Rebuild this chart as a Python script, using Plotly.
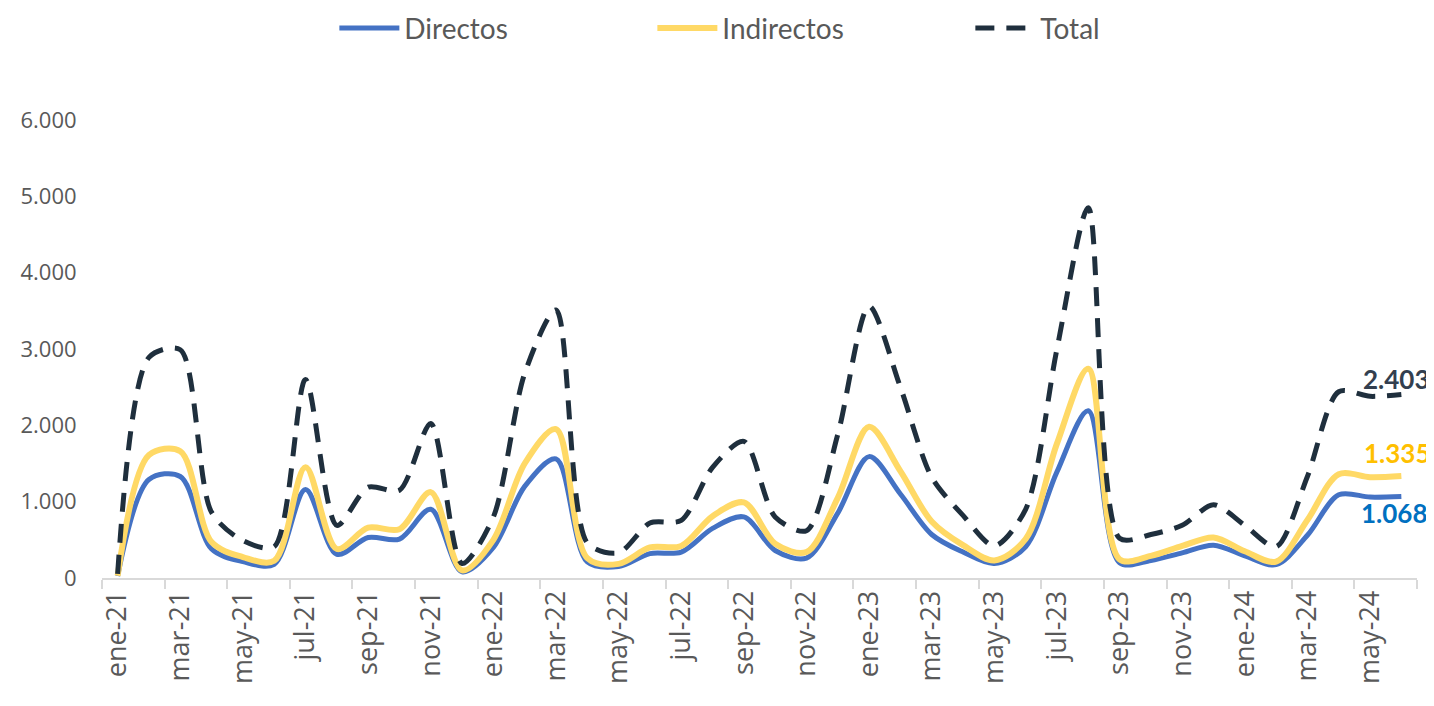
import plotly.graph_objects as go

months = ["ene", "feb", "mar", "abr", "may", "jun", "jul", "ago", "sep", "oct", "nov", "dic"]
categories = [f"{m}-{y}" for y in ("21", "22", "23", "24") for m in months][:42]

directos = [25, 1290, 1330, 380, 215, 180, 1160, 310, 530, 510, 900, 80,
            400, 1200, 1560, 210, 150, 320, 340, 650, 800, 360, 260, 850,
            1590, 1100, 570, 340, 190, 410, 1390, 2190, 200, 230, 330, 430,
            290, 175, 560, 1090, 1060, 1068]
indirectos = [30, 1610, 1660, 470, 275, 225, 1450, 380, 660, 640, 1125, 100,
              500, 1500, 1950, 260, 185, 400, 420, 810, 990, 450, 340, 1050,
              1980, 1400, 740, 430, 230, 510, 1760, 2740, 245, 290, 420, 530,
              350, 215, 760, 1360, 1320, 1335]
total = [55, 2890, 2990, 860, 490, 410, 2600, 690, 1190, 1150, 2025, 190,
         800, 2680, 3510, 460, 330, 720, 755, 1450, 1790, 800, 620, 1880,
         3560, 2500, 1320, 820, 420, 900, 3000, 4850, 520, 570, 690, 960,
         690, 410, 1330, 2440, 2380, 2403]

series_names = ["Directos", "Indirectos", "Total"]
y_ticks = [0, 1000, 2000, 3000, 4000, 5000, 6000]


def fmt(v):
    return f"{v:,}".replace(",", ".")


fig = go.Figure()
fig.add_trace(go.Scatter(x=categories, y=directos, name=series_names[0], mode="lines",
                         line=dict(color="#4472C4", width=5, shape="spline", smoothing=0.9)))
fig.add_trace(go.Scatter(x=categories, y=indirectos, name=series_names[1], mode="lines",
                         line=dict(color="#FFD966", width=6, shape="spline", smoothing=0.9)))
fig.add_trace(go.Scatter(x=categories, y=total, name=series_names[2], mode="lines",
                         line=dict(color="#1F2F3D", width=5, dash="19px,12px", shape="spline", smoothing=0.8)))

label_font = dict(family="Lato, Liberation Sans, sans-serif", size=26)
fig.add_annotation(x=categories[-1], y=total[-1], text=f"<b>{fmt(total[-1])}</b>", showarrow=False,
                   xanchor="left", yanchor="middle", xshift=-40, yshift=16,
                   font=dict(color="#333F4F", **label_font))
fig.add_annotation(x=categories[-1], y=indirectos[-1], text=f"<b>{fmt(indirectos[-1])}</b>", showarrow=False,
                   xanchor="left", yanchor="middle", xshift=-39, yshift=23,
                   font=dict(color="#FFC000", **label_font))
fig.add_annotation(x=categories[-1], y=directos[-1], text=f"<b>{fmt(directos[-1])}</b>", showarrow=False,
                   xanchor="left", yanchor="middle", xshift=-42, yshift=-17,
                   font=dict(color="#0070C0", **label_font))

fig.update_layout(
    width=1426, height=698,
    margin=dict(l=94, r=17, t=112, b=128, autoexpand=False),
    paper_bgcolor="white", plot_bgcolor="white",
    separators=",.",
    showlegend=True,
    legend=dict(orientation="h", x=0.1767, xanchor="left", y=1.2, yanchor="middle",
                font=dict(family="Lato, Liberation Sans, sans-serif", size=28, color="#595959"),
                entrywidth=243, entrywidthmode="pixels", bgcolor="rgba(0,0,0,0)",
                itemwidth=60),
    font=dict(family="Open Sans, sans-serif", color="#595959"),
)
fig.update_xaxes(type="category", categoryorder="array", categoryarray=categories,
                 range=[-0.5, len(categories) - 0.5], automargin=False,
                 tickmode="linear", tick0=0, dtick=2, tickson="boundaries",
                 ticks="outside", ticklen=9, tickwidth=2, tickcolor="#D9D9D9",
                 showline=True, linecolor="#D9D9D9", linewidth=2,
                 showgrid=False, tickangle=-90,
                 tickfont=dict(family="Open Sans, sans-serif", size=27, color="#595959"))
fig.update_yaxes(range=[0, 6000], tickmode="array", tickvals=y_ticks, automargin=False,
                 ticktext=[fmt(v) for v in y_ticks],
                 showgrid=False, zeroline=False, showline=False,
                 ticks="outside", ticklen=20, tickcolor="rgba(0,0,0,0)",
                 tickfont=dict(family="Open Sans, sans-serif", size=22, color="#595959"))

fig.write_html("out.html")
